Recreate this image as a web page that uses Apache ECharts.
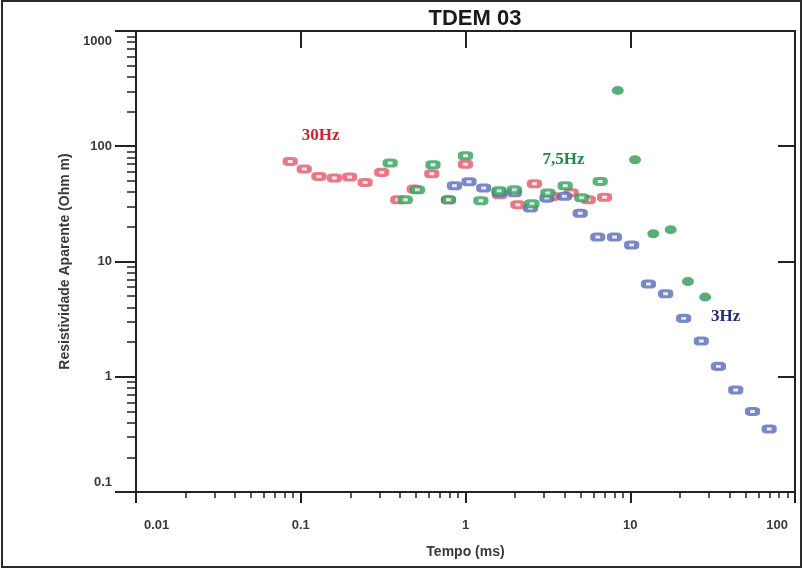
<!DOCTYPE html>
<html>
<head>
<meta charset="utf-8">
<script src="https://cdn.jsdelivr.net/npm/echarts@6/dist/echarts.min.js"></script>
<style>
html,body{margin:0;padding:0;background:#fff;}
#chart{width:803px;height:569px;}
</style>
</head>
<body>
<div id="chart"></div>
<script>
// ---- data (Tempo in ms, Resistividade aparente in Ohm m) ----
const red30_t   = [0.0863,0.105,0.129,0.160,0.198,0.246,0.310,0.388,0.488,0.624,0.788,1.00,1.61,2.08,2.62,3.38,4.38,5.56,6.98];
const red30_rho = [73.8,63.4,54.7,53.0,54.1,48.5,59.3,34.3,42.5,57.7,34.3,69.8,37.9,31.1,47.3,36.7,39.5,34.3,36.1];

const green75_t   = [0.349,0.431,0.511,0.635,0.788,1.00,1.24,1.60,1.98,2.53,3.16,4.03,5.08,6.57,8.40,10.7,13.8,17.6,22.4,28.5];
const green75_rho = [71.5,34.3,41.9,69.1,34.3,82.7,33.7,41.1,41.9,31.7,39.3,45.4,35.7,49.5,305,76.4,17.4,18.9,6.71,4.91];
const green75_solidFrom = 14; // index from which the marks are drawn filled

const blue3_t   = [0.857,1.05,1.29,1.60,1.98,2.48,3.12,3.99,4.97,6.35,8.02,10.2,12.9,16.4,21.1,27.0,34.3,43.7,55.2,69.7];
const blue3_rho = [45.4,49.2,43.4,39.5,39.5,29.1,35.5,36.8,26.2,16.3,16.3,13.9,6.37,5.25,3.21,2.04,1.23,0.767,0.50,0.352];

const xTickLabels = ['0.01','0.1','1','10','100'];
const yTickLabels = ['0.1','1','10','100','1000'];

const seriesLabels = [
  {text:'30Hz',  t:0.132, rho:123},
  {text:'7,5Hz', t:3.93,  rho:76.4},
  {text:'3Hz',   t:37.9,  rho:3.32}
];

// minor tick positions (log10 space)
function minorTicks(d0, d1){
  const out=[];
  for(let d=d0; d<d1; d++){ for(let k=2;k<=9;k++){ out.push(Math.log10(k)+d); } }
  return out;
}

const chart = echarts.init(document.getElementById('chart'), null, {renderer:'canvas'});

const axisCol = '#222';
const labelCol = '#3a3a3a';
const fontFam = 'Liberation Sans, Arial, sans-serif';

function pairs(xs, ys){ return xs.map((x,i)=>[x, ys[i]]); }

const redStyle   = {color:'#fbe3e6', borderColor:'#e2596b', borderWidth:4};
const greenStyle = {color:'#def3e6', borderColor:'#33a05e', borderWidth:4};
const blueStyle  = {color:'#e2e7f7', borderColor:'#5a6cb6', borderWidth:4};
const markSize = [10,6];

const greenData = pairs(green75_t, green75_rho).map((p,i)=> i>=green75_solidFrom ? {
  value:p, symbol:'circle', symbolSize:[12,9],
  itemStyle:{color:'#2e9a58', borderWidth:0}
} : p);

function markLabel(idx, color){
  const L = seriesLabels[idx];
  return {
    silent:true,
    symbol:'circle', symbolSize:0,
    label:{show:true, position:'inside', formatter:L.text, color:color,
      fontFamily:'Liberation Serif, Times New Roman, serif', fontWeight:'bold', fontSize:17},
    data:[{coord:[L.t, L.rho]}]
  };
}

const option = {
  animation:false,
  backgroundColor:'#fff',
  title:{
    text:'TDEM 03', left:470, top:3, textAlign:'center',
    textStyle:{fontFamily:fontFam, fontWeight:'bold', fontSize:22, color:'#1a1a1a'}
  },
  graphic:[{
    type:'rect', shape:{x:2, y:1, width:799, height:566},
    style:{fill:'none', stroke:'#2a2a2a', lineWidth:2}, silent:true
  }],
  grid:{left:136, right:8, top:31, bottom:77, containLabel:false},
  xAxis:[
    { type:'log', logBase:10, min:0.01, max:100, position:'bottom',
      name:'Tempo (ms)', nameLocation:'middle', nameGap:53,
      nameTextStyle:{fontFamily:fontFam, fontWeight:'bold', fontSize:14, color:labelCol},
      axisLine:{show:true, onZero:false, lineStyle:{color:axisCol, width:2}},
      axisTick:{show:true, inside:false, length:11, lineStyle:{color:axisCol, width:2}},
      minorTick:{show:false},
      splitLine:{show:false},
      axisLabel:{
        margin:27, color:labelCol, fontFamily:fontFam, fontWeight:'bold', fontSize:13,
        alignMinLabel:'left', alignMaxLabel:'right',
        formatter:function(v){
          const i = Math.round(Math.log10(v))+2;
          if(i===0) return '{l|'+xTickLabels[i]+'}';
          if(i===xTickLabels.length-1) return '{r|'+xTickLabels[i]+'}';
          return xTickLabels[i];
        },
        rich:{
          l:{padding:[0,0,0,8], color:labelCol, fontFamily:fontFam, fontWeight:'bold', fontSize:13},
          r:{padding:[0,7,0,0], color:labelCol, fontFamily:fontFam, fontWeight:'bold', fontSize:13}
        }
      }
    },
    { type:'value', min:-2, max:2, position:'bottom', gridIndex:0,
      axisLine:{show:false, onZero:false},
      axisTick:{show:true, inside:false, length:6, customValues:minorTicks(-2,2), lineStyle:{color:axisCol, width:1.5}},
      axisLabel:{show:false}, splitLine:{show:false}
    },
    { type:'log', logBase:10, min:0.01, max:100, position:'top',
      axisLine:{show:true, onZero:false, lineStyle:{color:axisCol, width:2}},
      axisTick:{show:true, inside:true, length:17, lineStyle:{color:axisCol, width:2}},
      axisLabel:{show:false}, splitLine:{show:false}
    }
  ],
  yAxis:[
    { type:'log', logBase:10, min:0.1, max:1000, position:'left',
      name:'Resistividade Aparente (Ohm m)', nameLocation:'middle', nameGap:64,
      nameTextStyle:{fontFamily:fontFam, fontWeight:'bold', fontSize:14, color:labelCol},
      axisLine:{show:true, onZero:false, lineStyle:{color:axisCol, width:2}},
      axisTick:{show:true, inside:false, length:21, lineStyle:{color:axisCol, width:2}},
      splitLine:{show:false},
      axisLabel:{
        margin:24, color:labelCol, fontFamily:fontFam, fontWeight:'bold', fontSize:13,
        verticalAlignMinLabel:'bottom', verticalAlignMaxLabel:'top',
        formatter:function(v){
          const i = Math.round(Math.log10(v))+1;
          if(i===0) return '{b|'+yTickLabels[i]+'}';
          if(i===yTickLabels.length-1) return '{t|'+yTickLabels[i]+'}';
          return yTickLabels[i];
        },
        rich:{
          b:{padding:[0,0,3,0], color:labelCol, fontFamily:fontFam, fontWeight:'bold', fontSize:13},
          t:{padding:[4,0,0,0], color:labelCol, fontFamily:fontFam, fontWeight:'bold', fontSize:13}
        }
      }
    },
    { type:'value', min:-1, max:3, position:'left', gridIndex:0,
      axisLine:{show:false, onZero:false},
      axisTick:{show:true, inside:false, length:9, customValues:minorTicks(-1,3), lineStyle:{color:axisCol, width:1.5}},
      axisLabel:{show:false}, splitLine:{show:false}
    },
    { type:'log', logBase:10, min:0.1, max:1000, position:'right',
      axisLine:{show:true, onZero:false, lineStyle:{color:axisCol, width:2}},
      axisTick:{show:true, inside:true, length:17, lineStyle:{color:axisCol, width:2}},
      axisLabel:{show:false}, splitLine:{show:false}
    }
  ],
  series:[
    { name:'30Hz', type:'scatter', xAxisIndex:0, yAxisIndex:0,
      symbol:'roundRect', symbolSize:markSize, itemStyle:redStyle,
      data:pairs(red30_t, red30_rho), markPoint:markLabel(0,'#d0242e'), z:2 },
    { name:'3Hz', type:'scatter', xAxisIndex:0, yAxisIndex:0,
      symbol:'roundRect', symbolSize:markSize, itemStyle:blueStyle,
      data:pairs(blue3_t, blue3_rho), markPoint:markLabel(2,'#262a78'), z:3 },
    { name:'7,5Hz', type:'scatter', xAxisIndex:0, yAxisIndex:0,
      symbol:'roundRect', symbolSize:markSize, itemStyle:greenStyle,
      data:greenData, markPoint:markLabel(1,'#1b8a4a'), z:4 }
  ]
};
chart.setOption(option);
</script>
</body>
</html>
